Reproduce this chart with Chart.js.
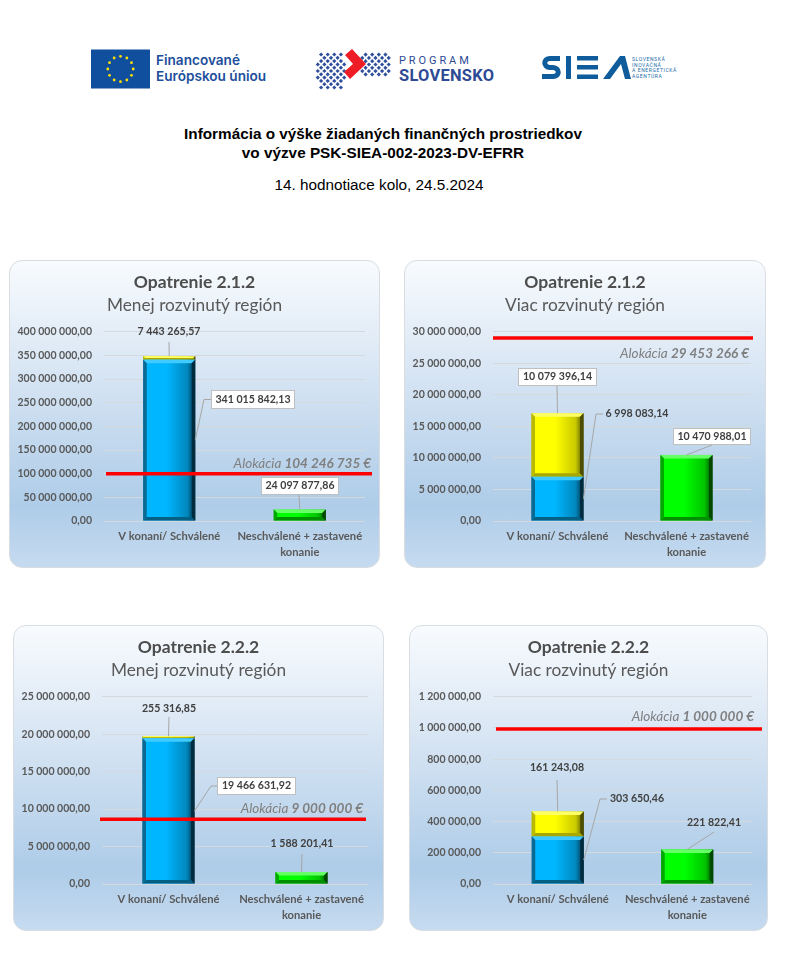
<!DOCTYPE html>
<html lang="sk">
<head>
<meta charset="utf-8">
<title>Opatrenia PSK-SIEA-002-2023-DV-EFRR</title>
<script src="https://cdn.jsdelivr.net/npm/chart.js@4/dist/chart.umd.min.js"></script>
<style>
  html, body { margin: 0; padding: 0; background: #fff; }
  #page { position: relative; width: 788px; height: 962px; overflow: hidden; font-family: "Liberation Sans", Arial, sans-serif; }
  .abs { position: absolute; white-space: nowrap; }
  .head { left: 0; width: 766px; text-align: center; color: #000; font-size: 15.3px; line-height: 19px; }
  .panel { position: absolute; box-sizing: border-box; border: 1px solid #d9dde2; border-radius: 13px;
           background: linear-gradient(180deg, #f8fbfe 0%, #d9e6f4 35%, #aecce8 80%, #c6dbf0 100%); }
  .panel canvas { position: absolute; left: -1px; top: -1px; }
  .eu { font: 600 13.6px/16px Inter, sans-serif; color: #1c4f9c; }
  .prog1 { font: 11px Roboto, sans-serif; letter-spacing: 2.9px; color: #2e4a94; }
  .prog2 { font: bold 16.4px Roboto, sans-serif; letter-spacing: .3px; color: #2e4a94; }
  .siea2 { font: 5px/5.6px Roboto, sans-serif; letter-spacing: .6px; color: #1a6aa8; }
</style>
</head>
<body>
<div id="page">
  <svg class="abs" id="logos" style="left:0;top:0" width="788" height="100"></svg>
  <div class="abs eu" style="left:156px;top:52px">Financované<br>Európskou úniou</div>
  <div class="abs prog1" style="left:399px;top:54px">PROGRAM</div>
  <div class="abs prog2" style="left:399px;top:66px">SLOVENSKO</div>
  <div class="abs siea2" style="left:632px;top:57px">SLOVENSKÁ<br>INOVAČNÁ<br>A ENERGETICKÁ<br>AGENTÚRA</div>
  <div class="abs head" style="top:124px;font-weight:bold">Informácia o výške žiadaných finančných prostriedkov<br>vo výzve PSK-SIEA-002-2023-DV-EFRR</div>
  <div class="abs head" style="top:175px;width:758px">14. hodnotiace kolo, 24.5.2024</div>
</div>

<script>
// values
const categories = ['V konaní/ Schválené', ['Neschválené + zastavené', 'konanie']];
const seriesNames = ['V konaní', 'Schválené', 'Neschválené + zastavené konanie'];

const panelTitles = ['Opatrenie 2.1.2', 'Opatrenie 2.1.2', 'Opatrenie 2.2.2', 'Opatrenie 2.2.2'];
const panelSubtitles = ['Menej rozvinutý región', 'Viac rozvinutý región', 'Menej rozvinutý región', 'Viac rozvinutý región'];

const blueValues = [341015842.13, 6998083.14, 19466631.92, 303650.46];
const yellowValues = [7443265.57, 10079396.14, 255316.85, 161243.08];
const greenValues = [24097877.86, 10470988.01, 1588201.41, 221822.41];

const allocationLabels = ['104 246 735 €', '29 453 266 €', '9 000 000 €', '1 000 000 €'];
const allocationLine = [100000000, 29000000, 8650000, 993000];

const yMax = [400000000, 30000000, 25000000, 1200000];
const yStep = [50000000, 5000000, 5000000, 200000];

// panel boxes and plot areas, page pixels
const layouts = [
  { x: 9, y: 260, w: 371, h: 308, plot: [104, 365, 332, 521], line: [106, 372],
    alloc: [371, 464],
    blue: { box: [211, 295, 390, 409], text: [253, 400], elbow: [[211, 399.5], [204, 399.5]] },
    yellow: { text: [169, 332], from: [169, 342] },
    green: { box: [261, 339, 477, 495], text: [300, 486], from: [299, 495] } },
  { x: 404, y: 260, w: 362, h: 308, plot: [493, 751, 332, 521], line: [493, 753],
    alloc: [749, 354],
    blue: { text: [637, 414], elbow: [[603, 414], [596, 414]] },
    yellow: { box: [518, 597, 368, 386], text: [557.5, 377], from: [557, 386] },
    green: { box: [673, 751, 428, 445], text: [712, 437], from: [712, 445] } },
  { x: 13, y: 625, w: 371, h: 306, plot: [102, 368, 697, 884], line: [100, 366],
    alloc: [363, 809],
    blue: { box: [217, 296, 777, 795], text: [256.5, 786], elbow: [[217, 786], [211, 786]] },
    yellow: { text: [169, 709], from: [169, 717] },
    green: { text: [302, 844], from: [302, 854] } },
  { x: 409, y: 625, w: 359, h: 306, plot: [493, 752, 697, 884], line: [496, 762],
    alloc: [754, 717],
    blue: { text: [637, 799], elbow: [[607, 799], [600, 799]] },
    yellow: { text: [557, 768], from: [557, 780] },
    green: { text: [714, 823], from: [714, 832] } }
];

const labelFont = 'bold 10.6px Lato, sans-serif';
const tickColor = '#595959';

function money(v) {
  const parts = v.toFixed(2).split('.');
  return parts[0].replace(/\B(?=(\d{3})+$)/g, ' ') + ',' + parts[1];
}

// bevelled bar look, like the Office preset
function bevelBar(ctx, el, colors) {
  const w = el.width, x = el.x - w / 2, y = el.y, h = el.base - el.y;
  if (h <= 0) return;
  const b = Math.min(3.5, h / 2);
  const g = ctx.createLinearGradient(x, 0, x + w, 0);
  g.addColorStop(0, colors.side);
  g.addColorStop(0.06, colors.main);
  g.addColorStop(0.45, colors.main);
  g.addColorStop(0.85, colors.mid);
  g.addColorStop(1, colors.dark);
  ctx.fillStyle = g;
  ctx.fillRect(x, y, w, h);
  const poly = (pts, fill) => {
    ctx.fillStyle = fill;
    ctx.beginPath();
    pts.forEach((p, i) => i ? ctx.lineTo(p[0], p[1]) : ctx.moveTo(p[0], p[1]));
    ctx.closePath();
    ctx.fill();
  };
  poly([[x, y], [x + w, y], [x + w - b, y + b], [x + b, y + b]], colors.top);
  poly([[x, y + h], [x + w, y + h], [x + w - b, y + h - b], [x + b, y + h - b]], colors.bottom);
  poly([[x, y], [x + b, y + b], [x + b, y + h - b], [x, y + h]], colors.side);
  poly([[x + w, y], [x + w - b, y + b], [x + w - b, y + h - b], [x + w, y + h]], colors.dark);
}

const barColors = [
  { main: '#00b6ff', mid: '#0087bd', dark: '#012c40', side: '#0a6a94', top: '#3fcbff', bottom: '#045f85' },
  { main: '#ffff00', mid: '#c9c900', dark: '#4d4d00', side: '#b9b900', top: '#ffff66', bottom: '#a8a800' },
  { main: '#00ff00', mid: '#00c400', dark: '#004a00', side: '#00a800', top: '#66ff66', bottom: '#008f00' }
];

const panelPlugin = {
  id: 'panelExtras',
  beforeDatasetDraw(chart, args) {
    // bars get painted here instead of the flat rectangles
    const meta = chart.getDatasetMeta(args.index);
    const raw = chart.data.datasets[args.index].data;
    meta.data.forEach((el, n) => {
      if (raw[n] != null) bevelBar(chart.ctx, el, barColors[args.index]);
    });
    return false;
  },
  afterDatasetsDraw(chart, args, opts) {
    // the red allocation line runs a bit past the plot on one side
    const { ctx } = chart;
    const L = opts.layout;
    const y = chart.scales.y.getPixelForValue(allocationLine[opts.index]);
    ctx.save();
    ctx.strokeStyle = '#ff0000';
    ctx.lineWidth = 3.4;
    ctx.beginPath();
    ctx.moveTo(L.line[0] - L.x, y);
    ctx.lineTo(L.line[1] - L.x, y);
    ctx.stroke();
    ctx.restore();
  },
  afterDraw(chart, args, opts) {
    const { ctx } = chart;
    const L = opts.layout, i = opts.index;
    const ox = L.x, oy = L.y;
    ctx.save();

    // allocation caption, italic name and bold italic sum
    const word = 'Alokácia ', sum = allocationLabels[i];
    ctx.textBaseline = 'middle';
    ctx.fillStyle = '#7f7f7f';
    ctx.font = 'bold italic 13.5px Lato, sans-serif';
    const sumW = ctx.measureText(sum).width;
    const ax = L.alloc[0] - ox, ay = L.alloc[1] - oy;
    ctx.textAlign = 'right';
    ctx.fillText(sum, ax, ay);
    ctx.font = 'italic 13.5px Lato, sans-serif';
    ctx.fillText(word, ax - sumW, ay);

    // leaders and data labels
    const items = [
      { cfg: L.blue, ds: 0, idx: 0, v: blueValues[i] },
      { cfg: L.yellow, ds: 1, idx: 0, v: yellowValues[i] },
      { cfg: L.green, ds: 2, idx: 1, v: greenValues[i] }
    ];
    items.forEach(it => {
      const el = chart.getDatasetMeta(it.ds).data[it.idx];
      const pts = it.cfg.elbow ? it.cfg.elbow.map(p => [p[0] - ox, p[1] - oy]) : [[it.cfg.from[0] - ox, it.cfg.from[1] - oy]];
      if (it.cfg.elbow) pts.push([el.x + el.width / 2, (el.y + el.base) / 2]);
      else pts.push([el.x, el.y]);
      ctx.strokeStyle = '#a6a6a6';
      ctx.lineWidth = 1;
      ctx.beginPath();
      pts.forEach((p, n) => n ? ctx.lineTo(p[0], p[1]) : ctx.moveTo(p[0], p[1]));
      ctx.stroke();

      if (it.cfg.box) {
        const b = it.cfg.box;
        ctx.fillStyle = '#fff';
        ctx.strokeStyle = '#bfbfbf';
        ctx.fillRect(b[0] - ox, b[2] - oy, b[1] - b[0], b[3] - b[2]);
        ctx.strokeRect(b[0] - ox + .5, b[2] - oy + .5, b[1] - b[0] - 1, b[3] - b[2] - 1);
      }
      ctx.fillStyle = '#404040';
      ctx.font = labelFont;
      ctx.textAlign = 'center';
      ctx.textBaseline = 'middle';
      ctx.fillText(money(it.v), it.cfg.text[0] - ox, it.cfg.text[1] - oy);
    });
    ctx.restore();
  }
};

function buildPanel(i) {
  const L = layouts[i];
  const div = document.createElement('div');
  div.className = 'panel';
  div.style.cssText = `left:${L.x}px;top:${L.y}px;width:${L.w}px;height:${L.h}px`;
  const canvas = document.createElement('canvas');
  canvas.width = L.w;
  canvas.height = L.h;
  div.appendChild(canvas);
  document.getElementById('page').appendChild(div);

  new Chart(canvas, {
    type: 'bar',
    data: {
      labels: categories,
      datasets: [
        { label: seriesNames[0], data: [blueValues[i], null], backgroundColor: barColors[0].main, barThickness: 52 },
        { label: seriesNames[1], data: [yellowValues[i], null], backgroundColor: barColors[1].main, barThickness: 52 },
        { label: seriesNames[2], data: [null, greenValues[i]], backgroundColor: barColors[2].main, barThickness: 52 }
      ]
    },
    options: {
      responsive: false,
      animation: false,
      layout: { padding: 0 },
      plugins: {
        legend: { display: false },
        tooltip: { enabled: false },
        title: { display: true, text: panelTitles[i], color: '#4d4d4d', font: { family: 'Lato', size: 17.5, weight: 'bold' }, padding: { top: 11.5, bottom: 3 } },
        subtitle: { display: true, text: panelSubtitles[i], color: '#595959', font: { family: 'Lato', size: 17.3, weight: 'normal' }, padding: { top: 0, bottom: 15.5 } },
        panelExtras: { layout: L, index: i }
      },
      scales: {
        x: {
          stacked: true,
          grid: { display: false },
          border: { display: false },
          ticks: { color: tickColor, font: { family: 'Lato', size: 11.2, weight: 'bold', lineHeight: 1.4 }, padding: 0, maxRotation: 0, autoSkip: false },
          afterFit(s) { s.height = L.y + L.h - L.plot[3]; }
        },
        y: {
          stacked: true,
          min: 0,
          max: yMax[i],
          grid: { color: '#d4d9de', lineWidth: 1, drawTicks: false },
          border: { display: false },
          ticks: { stepSize: yStep[i], color: tickColor, font: { family: 'Lato', size: 10.5, weight: 'bold' }, padding: 12, callback: v => money(v) },
          afterFit(s) { s.width = L.plot[0] - L.x; }
        },
        // empty right axis, keeps the title centred on the whole panel
        yPad: {
          position: 'right',
          grid: { display: false },
          border: { display: false },
          ticks: { display: false },
          afterFit(s) { s.width = L.x + L.w - L.plot[1]; }
        }
      }
    },
    plugins: [panelPlugin]
  });
}

layouts.forEach((L, i) => buildPanel(i));

// header logos
(function () {
  const NS = 'http://www.w3.org/2000/svg';
  const svg = document.getElementById('logos');
  const add = (tag, attrs) => {
    const e = document.createElementNS(NS, tag);
    Object.keys(attrs).forEach(k => e.setAttribute(k, attrs[k]));
    svg.appendChild(e);
  };
  add('rect', { x: 91, y: 49.5, width: 59, height: 39, fill: '#104f9e' });
  for (let a = 0; a < 12; a++) {
    const t = a * Math.PI / 6;
    add('circle', { cx: 120.5 + 12.7 * Math.cos(t), cy: 69 + 12.7 * Math.sin(t), r: 1.4, fill: '#ffe100' });
  }
  // dotted diamond mark
  const dot = (px, py) => add('polygon', {
    points: `${px - 2.1},${py} ${px},${py - 2.1} ${px + 2.1},${py} ${px},${py + 2.1}`, fill: '#2f4f9d'
  });
  for (let u = -5; u <= 5; u++) {
    for (let v = -5; v <= 5; v++) {
      const dx = (u + v) * 3.3, dy = (v - u) * 3.3;
      if (Math.abs(dx) + Math.abs(dy) * .3 <= 17 && Math.abs(dy) <= 16.5 && Math.abs(u) + Math.abs(v) <= 5) dot(331 + dx, 71 + dy);
      if (Math.abs(dx) <= 15 && Math.abs(dy) <= 10) dot(375.5 + dx, 64.5 + dy);
    }
  }
  add('polygon', { points: '345,55 352,49 366,64 350,79 344,72 353,64', fill: '#ee1c25' });

  // SIEA letters
  add('path', { d: 'M560 58.5H550C543 58.5 543 67 550 67.5H553C560 68 560 76.5 553 76.5H542', fill: 'none', stroke: '#0f5c9c', 'stroke-width': 5 });
  add('rect', { x: 566, y: 56, width: 5, height: 23, fill: '#0f5c9c' });
  [56, 65, 74.5].forEach(y => add('rect', { x: 577, y, width: 21, height: 4.5, fill: '#0f5c9c' }));
  add('polygon', { points: '603,79 620,56 625,56 631,79 625,79 621,64 610,79', fill: '#0f5c9c' });
})();
</script>
</body>
</html>
